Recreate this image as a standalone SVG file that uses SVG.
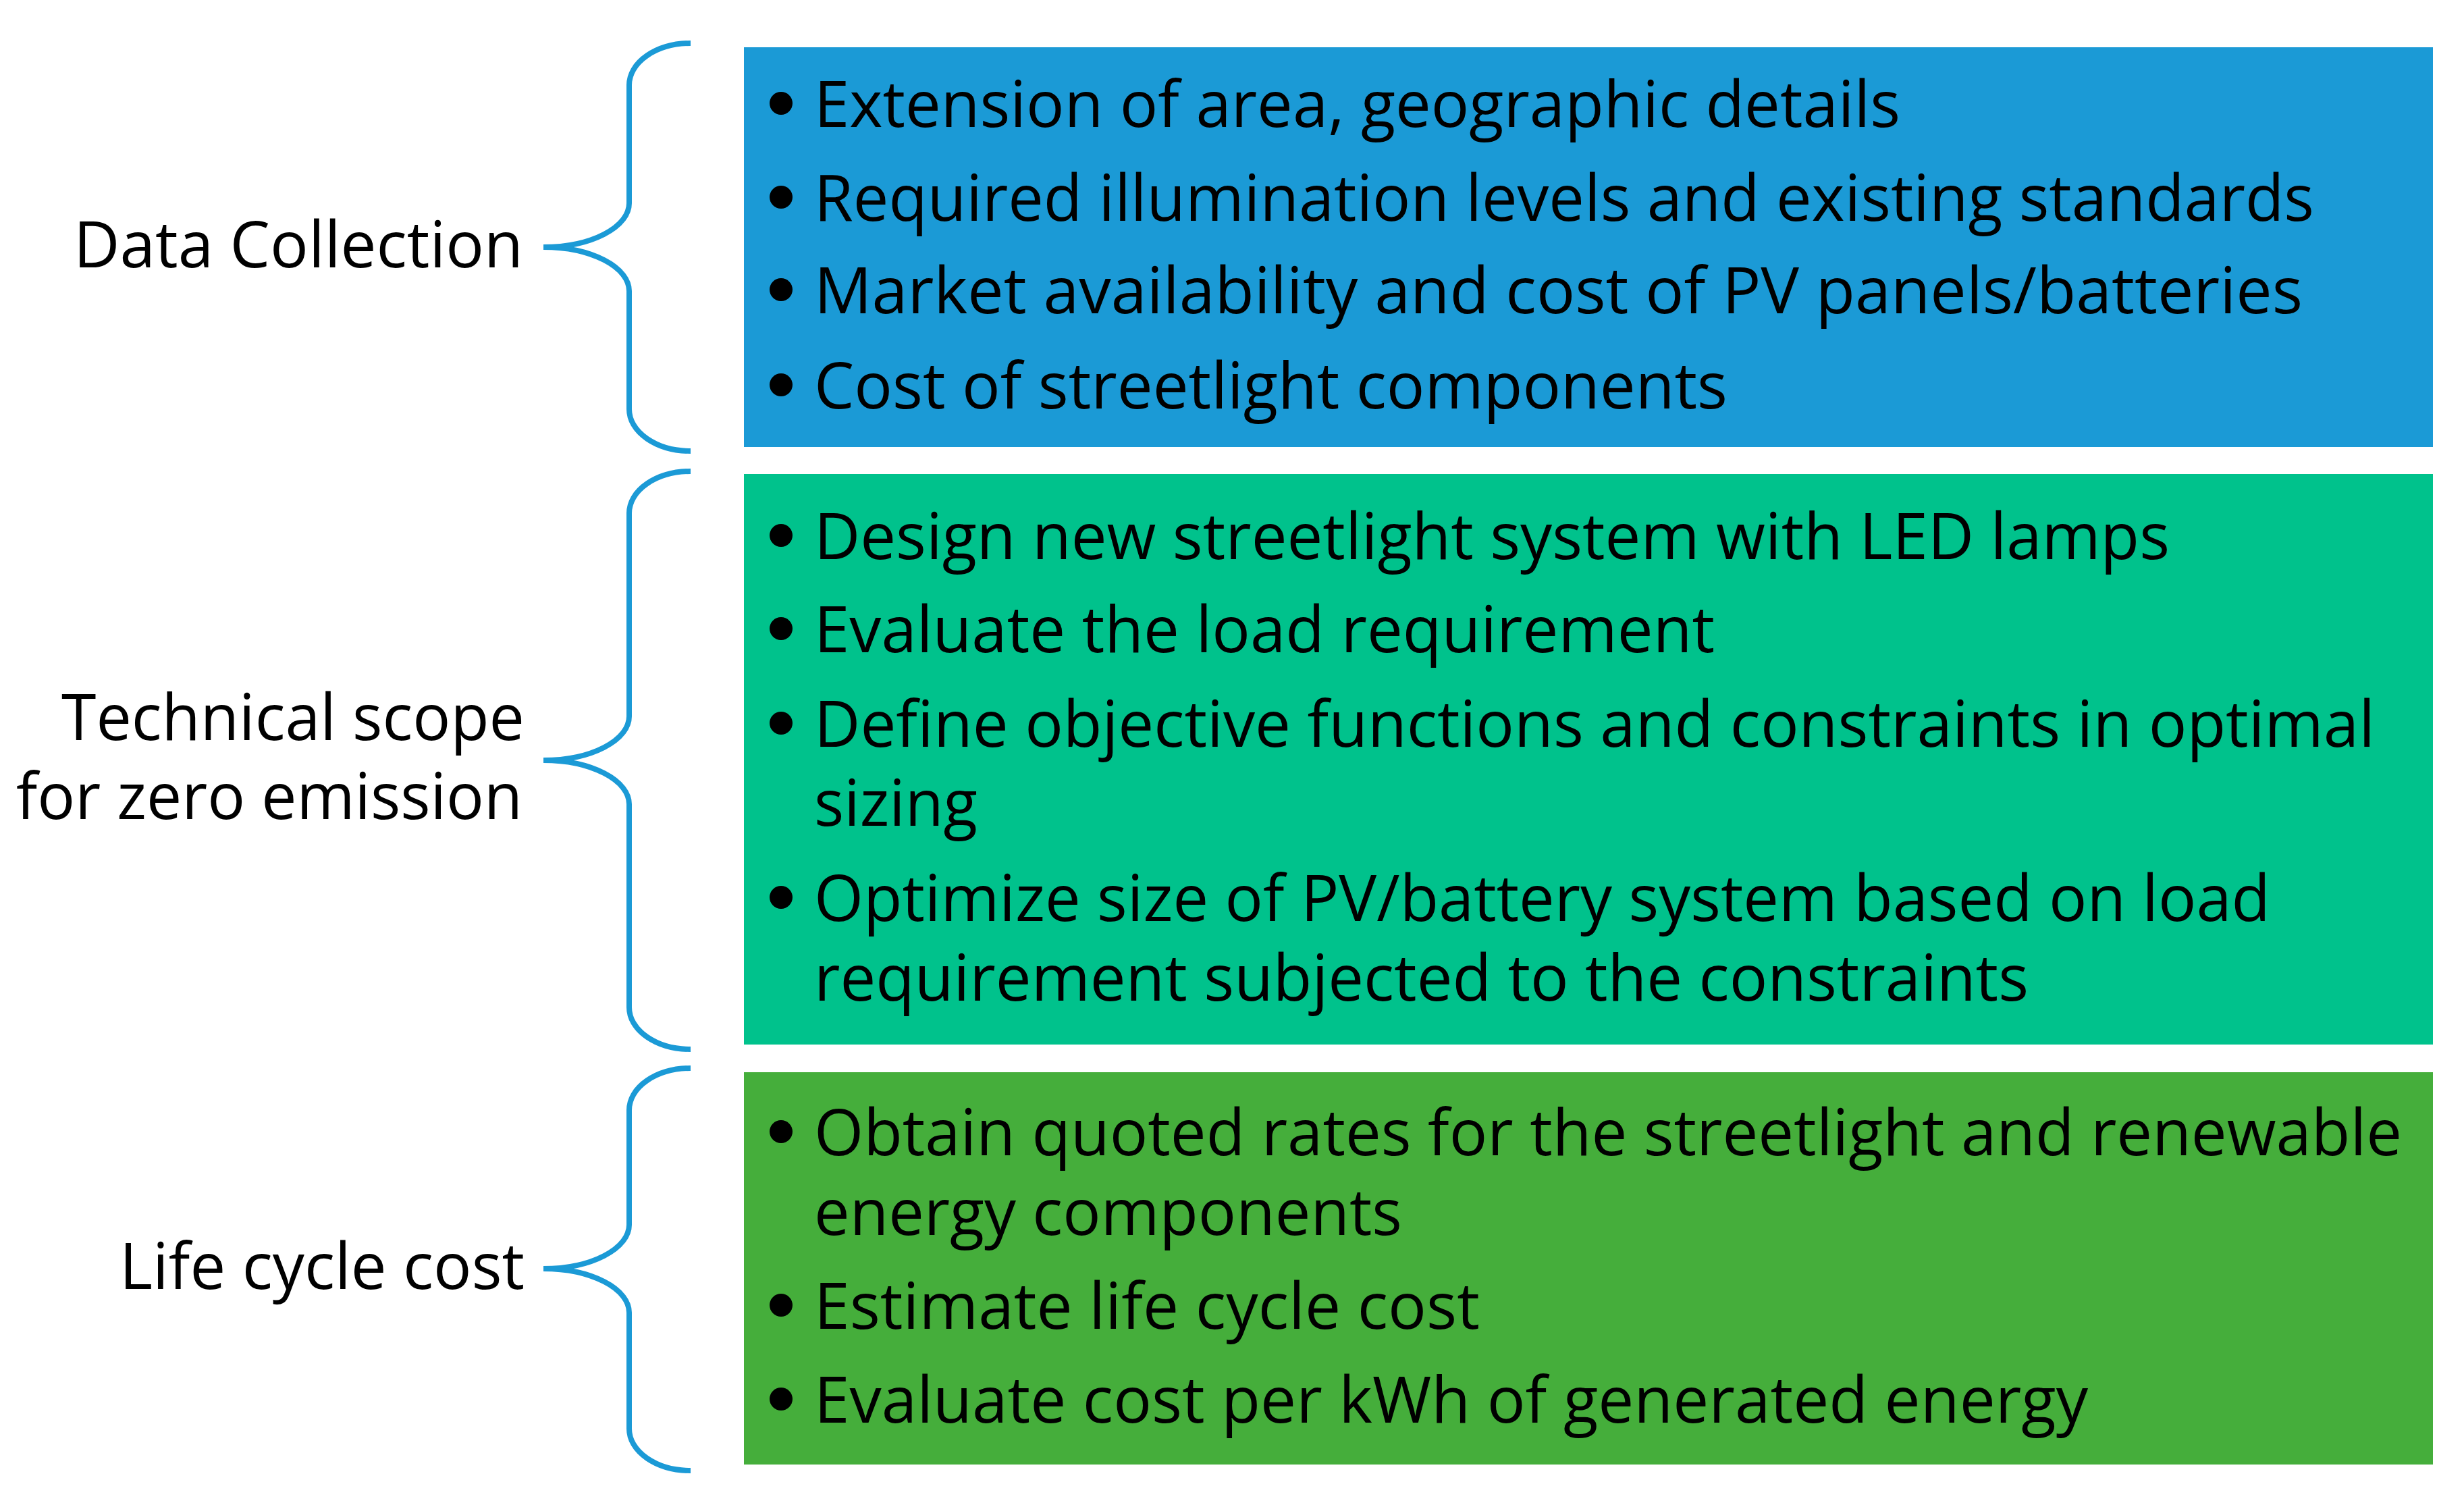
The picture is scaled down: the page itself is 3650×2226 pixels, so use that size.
<svg xmlns="http://www.w3.org/2000/svg" width="3650" height="2226" viewBox="0 0 3650 2226">
<style>
.t{font-family:"Open Sans","Noto Sans","Liberation Sans",sans-serif;font-size:96px;fill:#000}
.brace{fill:none;stroke:#1B9AD6;stroke-width:8}
.b{fill:#000}
</style>
<rect width="3650" height="2226" fill="#fff"/>
<g id="connectors">
<path class="brace" d="M1023,64 A91,62 0 0 0 932,126 L932,301 A127,65 0 0 1 805,366 A127,65 0 0 1 932,431 L932,606 A91,62 0 0 0 1023,668"/>
<path class="brace" d="M1023,698 A91,62 0 0 0 932,760 L932,1061 A127,65 0 0 1 805,1126 A127,65 0 0 1 932,1191 L932,1492 A91,62 0 0 0 1023,1554"/>
<path class="brace" d="M1023,1582 A91,62 0 0 0 932,1644 L932,1814 A127,65 0 0 1 805,1879 A127,65 0 0 1 932,1944 L932,2116 A91,62 0 0 0 1023,2178"/>
</g>
<g id="label-data">
<text class="t" x="109" y="396" textLength="666" lengthAdjust="spacingAndGlyphs">Data Collection</text>
</g>
<g id="label-technical">
<text class="t" x="91" y="1096" textLength="686" lengthAdjust="spacingAndGlyphs">Technical scope</text>
<text class="t" x="24" y="1213" textLength="750" lengthAdjust="spacingAndGlyphs">for zero emission</text>
</g>
<g id="label-lcc">
<text class="t" x="177" y="1909" textLength="600" lengthAdjust="spacingAndGlyphs">Life cycle cost</text>
</g>
<g id="box-data">
<rect x="1102" y="70" width="2502" height="592" fill="#1B9AD6"/>
<circle class="b" cx="1157" cy="153" r="17"/>
<text class="t" x="1206" y="188" textLength="1609" lengthAdjust="spacingAndGlyphs">Extension of area, geographic details</text>
<circle class="b" cx="1157" cy="292" r="17"/>
<text class="t" x="1206" y="327" textLength="2222" lengthAdjust="spacingAndGlyphs">Required illumination levels and existing standards</text>
<circle class="b" cx="1157" cy="429" r="17"/>
<text class="t" x="1206" y="464" textLength="2205" lengthAdjust="spacingAndGlyphs">Market availability and cost of PV panels/batteries</text>
<circle class="b" cx="1157" cy="570" r="17"/>
<text class="t" x="1206" y="605" textLength="1353" lengthAdjust="spacingAndGlyphs">Cost of streetlight components</text>
</g>
<g id="box-technical">
<rect x="1102" y="702" width="2502" height="845" fill="#00C28C"/>
<circle class="b" cx="1157" cy="793" r="17"/>
<text class="t" x="1206" y="828" textLength="2008" lengthAdjust="spacingAndGlyphs">Design new streetlight system with LED lamps</text>
<circle class="b" cx="1157" cy="931" r="17"/>
<text class="t" x="1206" y="966" textLength="1334" lengthAdjust="spacingAndGlyphs">Evaluate the load requirement</text>
<circle class="b" cx="1157" cy="1071" r="17"/>
<text class="t" x="1206" y="1106" textLength="2312" lengthAdjust="spacingAndGlyphs">Define objective functions and constraints in optimal</text>
<text class="t" x="1206" y="1223" textLength="242" lengthAdjust="spacingAndGlyphs">sizing</text>
<circle class="b" cx="1157" cy="1329" r="17"/>
<text class="t" x="1206" y="1364" textLength="2157" lengthAdjust="spacingAndGlyphs">Optimize size of PV/battery system based on load</text>
<text class="t" x="1206" y="1482" textLength="1799" lengthAdjust="spacingAndGlyphs">requirement subjected to the constraints</text>
</g>
<g id="box-lcc">
<rect x="1102" y="1588" width="2502" height="581" fill="#45AE3B"/>
<circle class="b" cx="1157" cy="1676" r="17"/>
<text class="t" x="1206" y="1711" textLength="2352" lengthAdjust="spacingAndGlyphs">Obtain quoted rates for the streetlight and renewable</text>
<text class="t" x="1206" y="1829" textLength="871" lengthAdjust="spacingAndGlyphs">energy components</text>
<circle class="b" cx="1157" cy="1933" r="17"/>
<text class="t" x="1206" y="1968" textLength="986" lengthAdjust="spacingAndGlyphs">Estimate life cycle cost</text>
<circle class="b" cx="1157" cy="2072" r="17"/>
<text class="t" x="1206" y="2107" textLength="1887" lengthAdjust="spacingAndGlyphs">Evaluate cost per kWh of generated energy</text>
</g>
</svg>
